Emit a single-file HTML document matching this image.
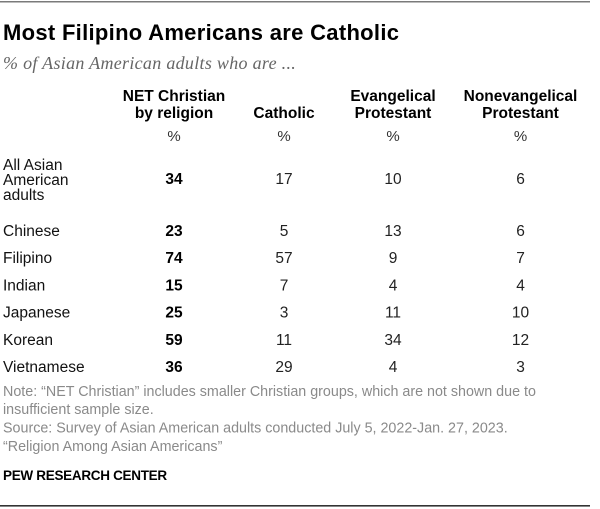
<!DOCTYPE html>
<html>
<head>
<meta charset="utf-8">
<style>
  html, body { margin: 0; padding: 0; background: #ffffff; }
  body { width: 600px; height: 509px; overflow: hidden; }
  svg { display: block; }
  text { font-family: "Liberation Sans", Arial, sans-serif; }
  .title { font-size: 22px; font-weight: bold; fill: #000; letter-spacing: 0.3px; }
  .sub { font-family: "Liberation Serif", serif; font-style: italic; font-size: 18px; fill: #666; letter-spacing: 0.3px; }
  .hd { font-size: 15.5px; font-weight: bold; fill: #000; text-anchor: middle; }
  .pct { font-size: 15px; fill: #333; text-anchor: middle; }
  .lbl { font-size: 15.5px; fill: #111; }
  .v { font-size: 15.5px; fill: #222; text-anchor: middle; }
  .vb { font-size: 15.5px; font-weight: bold; fill: #000; text-anchor: middle; }
  .note { font-size: 14.3px; fill: #8a8a8a; }
  .pew { font-size: 13.5px; font-weight: bold; fill: #000; letter-spacing: -0.3px; }
</style>
</head>
<body>
<svg width="600" height="509" viewBox="0 0 600 509" xmlns="http://www.w3.org/2000/svg">
  <rect x="0" y="1" width="590" height="1.5" fill="#7a7a7a"/>

  <text class="title" x="3" y="40">Most Filipino Americans are Catholic</text>
  <text class="sub" x="3" y="69">% of Asian American adults who are ...</text>

  <!-- headers -->
  <text class="hd" x="174" y="101">NET Christian</text>
  <text class="hd" x="174" y="118">by religion</text>
  <text class="hd" x="284" y="118">Catholic</text>
  <text class="hd" x="393" y="101">Evangelical</text>
  <text class="hd" x="393" y="118">Protestant</text>
  <text class="hd" x="520.5" y="101">Nonevangelical</text>
  <text class="hd" x="520.5" y="118">Protestant</text>

  <text class="pct" x="174" y="141">%</text>
  <text class="pct" x="284" y="141">%</text>
  <text class="pct" x="393" y="141">%</text>
  <text class="pct" x="520.5" y="141">%</text>

  <!-- All Asian American adults -->
  <text class="lbl" x="3" y="170">All Asian</text>
  <text class="lbl" x="3" y="185">American</text>
  <text class="lbl" x="3" y="200">adults</text>
  <text class="vb" x="174" y="184">34</text>
  <text class="v" x="284" y="184">17</text>
  <text class="v" x="393" y="184">10</text>
  <text class="v" x="520.5" y="184">6</text>

  <!-- Chinese -->
  <text class="lbl" x="3" y="236">Chinese</text>
  <text class="vb" x="174" y="236">23</text>
  <text class="v" x="284" y="236">5</text>
  <text class="v" x="393" y="236">13</text>
  <text class="v" x="520.5" y="236">6</text>

  <!-- Filipino -->
  <text class="lbl" x="3" y="263">Filipino</text>
  <text class="vb" x="174" y="263">74</text>
  <text class="v" x="284" y="263">57</text>
  <text class="v" x="393" y="263">9</text>
  <text class="v" x="520.5" y="263">7</text>

  <!-- Indian -->
  <text class="lbl" x="3" y="290.5">Indian</text>
  <text class="vb" x="174" y="290.5">15</text>
  <text class="v" x="284" y="290.5">7</text>
  <text class="v" x="393" y="290.5">4</text>
  <text class="v" x="520.5" y="290.5">4</text>

  <!-- Japanese -->
  <text class="lbl" x="3" y="317.5">Japanese</text>
  <text class="vb" x="174" y="317.5">25</text>
  <text class="v" x="284" y="317.5">3</text>
  <text class="v" x="393" y="317.5">11</text>
  <text class="v" x="520.5" y="317.5">10</text>

  <!-- Korean -->
  <text class="lbl" x="3" y="345">Korean</text>
  <text class="vb" x="174" y="345">59</text>
  <text class="v" x="284" y="345">11</text>
  <text class="v" x="393" y="345">34</text>
  <text class="v" x="520.5" y="345">12</text>

  <!-- Vietnamese -->
  <text class="lbl" x="3" y="372">Vietnamese</text>
  <text class="vb" x="174" y="372">36</text>
  <text class="v" x="284" y="372">29</text>
  <text class="v" x="393" y="372">4</text>
  <text class="v" x="520.5" y="372">3</text>

  <!-- notes -->
  <text class="note" x="3" y="396">Note: “NET Christian” includes smaller Christian groups, which are not shown due to</text>
  <text class="note" x="3" y="414">insufficient sample size.</text>
  <text class="note" x="3" y="432.5">Source: Survey of Asian American adults conducted July 5, 2022-Jan. 27, 2023.</text>
  <text class="note" x="3" y="451">“Religion Among Asian Americans”</text>

  <text class="pew" x="3" y="480">PEW RESEARCH CENTER</text>

  <rect x="0" y="505" width="590" height="1.6" fill="#333"/>
</svg>
</body>
</html>
